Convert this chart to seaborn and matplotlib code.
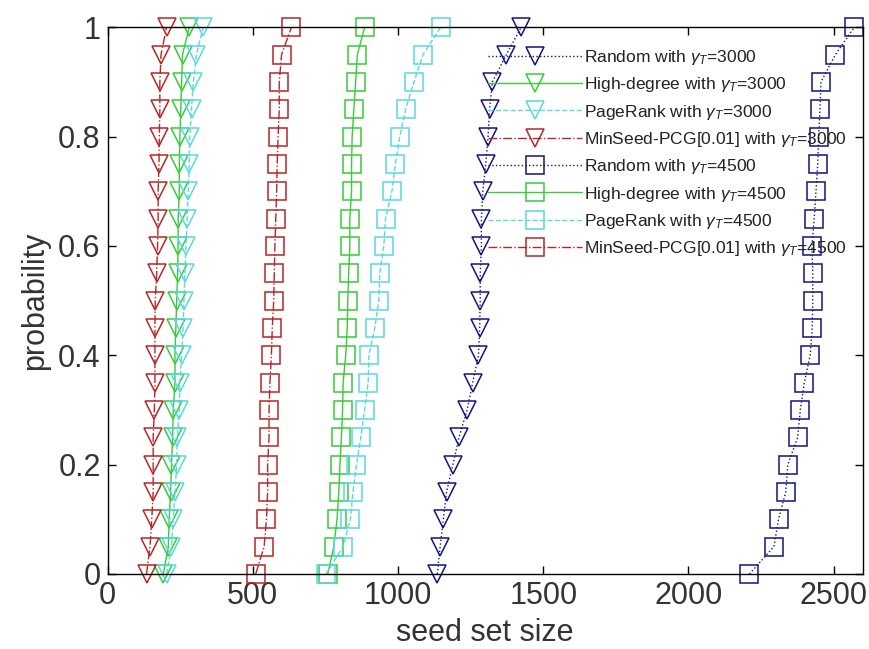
import numpy as np
import pandas as pd
import matplotlib
matplotlib.use("Agg")
import matplotlib.pyplot as plt
import seaborn as sns

# ---- data ----
prob = [0.0, 0.05, 0.10, 0.15, 0.20, 0.25, 0.30, 0.35, 0.40, 0.45, 0.50,
        0.55, 0.60, 0.65, 0.70, 0.75, 0.80, 0.85, 0.90, 0.95, 1.0]

random_3000 = [1135, 1145, 1156, 1167, 1189, 1210, 1238, 1257, 1277, 1281, 1283,
               1283, 1287, 1287, 1292, 1302, 1310, 1315, 1325, 1373, 1424]
high_3000 = [192, 209, 212, 217, 220, 224, 226, 232, 232, 235, 238,
             241, 243, 243, 247, 247, 249, 252, 255, 258, 281]
pagerank_3000 = [203, 220, 226, 232, 238, 240, 247, 249, 255, 260, 263,
                 266, 270, 274, 278, 281, 283, 289, 295, 306, 329]
minseed_3000 = [134, 146, 152, 157, 157, 157, 161, 163, 163, 163, 164,
                169, 172, 174, 174, 177, 178, 180, 180, 184, 203]

random_4500 = [2210, 2294, 2310, 2335, 2342, 2376, 2385, 2399, 2419, 2426, 2428,
               2428, 2425, 2433, 2439, 2445, 2448, 2453, 2456, 2506, 2571]
high_4500 = [758, 779, 790, 796, 800, 805, 809, 811, 820, 825, 827,
             830, 834, 834, 840, 840, 842, 848, 854, 860, 885]
pagerank_4500 = [752, 811, 836, 845, 857, 872, 885, 897, 900, 920, 934,
                 937, 951, 957, 979, 991, 1006, 1026, 1055, 1086, 1147]
minseed_4500 = [510, 539, 547, 551, 551, 556, 556, 559, 564, 567, 572,
                574, 576, 579, 582, 584, 587, 591, 591, 599, 633]

labels = [
    r"Random with $\gamma_T$=3000",
    r"High-degree with $\gamma_T$=3000",
    r"PageRank with $\gamma_T$=3000",
    r"MinSeed-PCG[0.01] with $\gamma_T$=3000",
    r"Random with $\gamma_T$=4500",
    r"High-degree with $\gamma_T$=4500",
    r"PageRank with $\gamma_T$=4500",
    r"MinSeed-PCG[0.01] with $\gamma_T$=4500",
]
series = [random_3000, high_3000, pagerank_3000, minseed_3000,
          random_4500, high_4500, pagerank_4500, minseed_4500]

x_ticks = [0, 500, 1000, 1500, 2000, 2500]
y_ticks = [0, 0.2, 0.4, 0.6, 0.8, 1.0]
y_ticklabels = ["0", "0.2", "0.4", "0.6", "0.8", "1"]

# ---- styles ----
navy = (0.08, 0.08, 0.50)
green = (0.22, 0.80, 0.22)
cyan = (0.35, 0.85, 0.88)
red = (0.72, 0.15, 0.15)
colors = [navy, green, cyan, red] * 2
styles = [":", "-", "--", "-."] * 2
markers = ["v"] * 4 + ["s"] * 4

sns.set_theme(style="white")
plt.rcParams["font.family"] = ["Liberation Sans", "DejaVu Sans"]
plt.rcParams["mathtext.fontset"] = "custom"
plt.rcParams["mathtext.rm"] = "Liberation Sans"
plt.rcParams["mathtext.it"] = "Liberation Sans:italic"

fig = plt.figure(figsize=(8.69, 6.49), dpi=100)
ax = fig.add_axes([0.1238, 0.1156, 0.869, 0.8424])

for vals, lab, c, ls, m in zip(series, labels, colors, styles, markers):
    df = pd.DataFrame({"size": vals, "p": prob})
    sns.lineplot(data=df, x="size", y="p", ax=ax, color=c, linestyle=ls,
                 linewidth=1.0, marker=m, markersize=12.5,
                 markerfacecolor="none", markeredgecolor=c,
                 markeredgewidth=1.1, estimator=None, sort=False,
                 label=lab, clip_on=False)

ax.set_xlim(0, 2600)
ax.set_ylim(0, 1)
ax.set_xticks(x_ticks)
ax.set_xticklabels([str(t) for t in x_ticks])
ax.set_yticks(y_ticks)
ax.set_yticklabels(y_ticklabels)
ax.tick_params(direction="in", length=6, width=1, labelsize=22,
               top=True, right=True, bottom=True, left=True, colors="black",
               labelcolor="#333333", pad=5)
for sp in ax.spines.values():
    sp.set_color("black")
    sp.set_linewidth(1.0)
ax.set_xlabel("seed set size", fontsize=22, color="#333333", labelpad=5)
ax.set_ylabel("probability", fontsize=22, color="#333333", labelpad=6)

leg = ax.legend(loc="upper left", bbox_to_anchor=(0.495, 0.975),
                frameon=False, fontsize=12.5, handlelength=5.4,
                handletextpad=0.1, labelspacing=0.48, borderaxespad=0)
for t in leg.get_texts():
    t.set_color("#222222")

fig.savefig("out.png", dpi=100)
